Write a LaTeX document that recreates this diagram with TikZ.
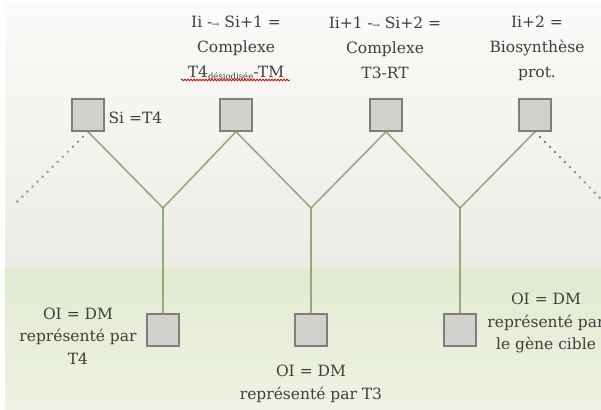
\documentclass[tikz,border=0pt]{standalone}
\usepackage{xcolor}
\usepackage{fontspec}
\setmainfont{DejaVu Serif}
\usetikzlibrary{decorations.pathmorphing}
\definecolor{fondhaut}{HTML}{FBFBF9}
\definecolor{fondbas}{HTML}{ECEBE6}
\definecolor{vertclair}{HTML}{E2EAD1}
\definecolor{vertpale}{HTML}{EEF2E4}
\definecolor{trait}{HTML}{8EAB78}
\definecolor{pointille}{HTML}{6F9658}
\definecolor{boite}{HTML}{D3D1CE}
\definecolor{bord}{HTML}{7E7E7E}
\definecolor{encre}{HTML}{3E3E3E}
\newcommand{\cote}{32pt}
\newcommand{\ySq}{115}
\newcommand{\yOI}{330}
\newcommand{\yV}{208}
\newcommand{\fleche}{-\hspace{-0.5pt}{\small→}}

\begin{document}
\begin{tikzpicture}[x=1pt, y=-1pt,
	carre/.style={draw=bord, line width=1.4pt, fill=boite, minimum size=\cote, inner sep=0pt},
	lien/.style={draw=trait, line width=1.5pt},
	points/.style={draw=pointille, line width=2.6pt, line cap=round, dash pattern=on 0.1pt off 7pt},
	texte/.style={text=encre, align=center, font=\fontsize{15.5}{25}\selectfont},
	texteb/.style={text=encre, align=center, font=\fontsize{15.5}{22.5}\selectfont}]
	\useasboundingbox (0,0) rectangle (601,409);
	\fill[white] (0,0) rectangle (601,409);
	\shade[top color=fondhaut, bottom color=fondbas] (5,3) rectangle (601,268);
	\shade[top color=vertclair, bottom color=vertpale] (5,268) rectangle (601,409);

	\foreach \i/\x in {1/88,2/236,3/386,4/535}{
		\node[carre] (s\i) at (\x,\ySq) {};
		}
	\foreach \i/\x in {1/163,2/311,3/460}{
		\coordinate (v\i) at (\x,\yV);
		\node[carre] (o\i) at (\x,\yOI) {};
		}
	\coordinate (g) at (14,205);
	\coordinate (d) at (601,199);

	\draw[lien] (s1.south) -- (v1) -- (s2.south) -- (v2) -- (s3.south) -- (v3) -- (s4.south);
	\foreach \i in {1,2,3}{
		\draw[lien] (v\i) -- (o\i.north);
		}
	\draw[points] (s1.south) -- (g);
	\draw[points] (s4.south) -- (d);

	\node[texte] (t1) at (236,48) {Ii \fleche{} Si+1 =\\Complexe\\T4\raisebox{-1.5pt}{\fontsize{8.5}{9}\selectfont désiodisée}-TM};
	\node[texte] (t2) at (385,48) {Ii+1 \fleche{} Si+2 =\\Complexe\\T3-RT};
	\node[texte] (t3) at (537,48) {Ii+2 =\\Biosynthèse\\prot.};
	\draw[red!85!black, line width=0.8pt, decorate, decoration={snake, amplitude=0.8pt, segment length=3pt}] (181,80) -- (290,80);
	\node[texte, anchor=west] (si) at (105,118) {Si =T4};

	\node[texteb] (b1) at (78,336) {OI = DM\\représenté par\\T4};
	\node[texteb] (b2) at (311,384) {OI = DM\\représenté par T3};
	\node[texteb] (b3) at (546,323) {OI = DM\\représenté par\\le gène cible};
\end{tikzpicture}
\end{document}
